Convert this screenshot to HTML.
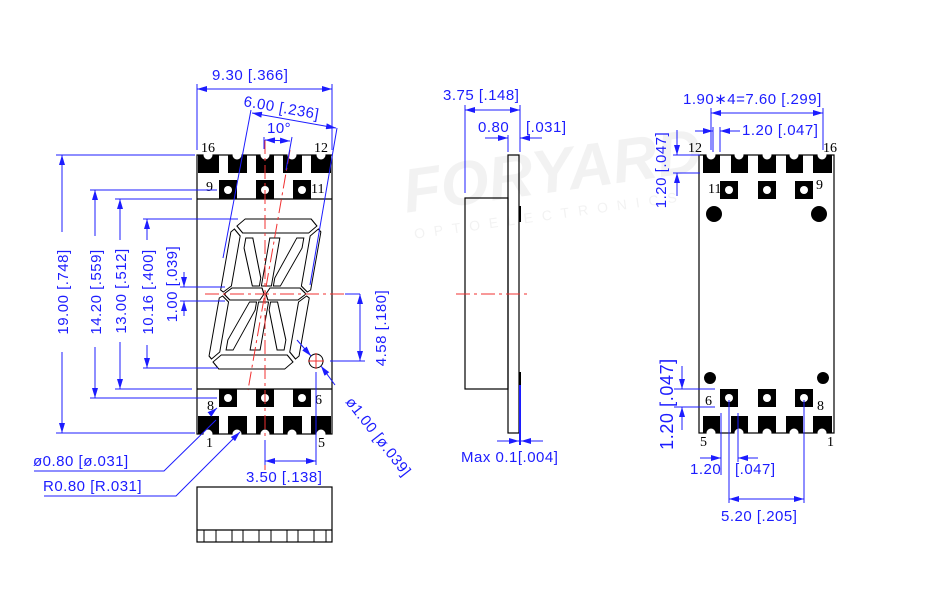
<!DOCTYPE html>
<html><head><meta charset="utf-8"><style>
html,body{margin:0;padding:0;background:#fff;}
svg{display:block;}
.d{fill:#1c1cff;font-family:"Liberation Sans",sans-serif;font-size:15px;letter-spacing:0.5px;}
.k{fill:#000;font-family:"Liberation Serif",serif;font-size:14px;}
.b{stroke:#1c1cff;stroke-width:1;fill:none;}
.o{stroke:#000;stroke-width:1.2;fill:none;}
.r{stroke:#f03030;stroke-width:1;stroke-dasharray:14 4 3 4;fill:none;}
.seg{fill:#fff;stroke:#000;stroke-width:1;}
</style></head><body>
<svg width="951" height="590" viewBox="0 0 951 590" xmlns="http://www.w3.org/2000/svg">
<defs>
<marker id="a" viewBox="0 0 10 6" refX="10" refY="3" markerWidth="10" markerHeight="6" orient="auto-start-reverse" markerUnits="userSpaceOnUse"><path d="M0,0 L10,3 L0,6 z" fill="#1c1cff"/></marker>
</defs>
<!-- watermark -->
<g opacity="0.07" transform="rotate(-8 530 160)">
<text x="400" y="195" style="font-family:'Liberation Sans',sans-serif;font-size:62px;font-weight:bold;fill:#555;font-style:italic">FORYARD</text>
<text x="405" y="222" style="font-family:'Liberation Sans',sans-serif;font-size:14px;letter-spacing:9px;fill:#555">OPTOELECTRONICS</text>
</g>

<!-- ===== LEFT FRONT VIEW ===== -->
<rect x="197" y="155" width="135" height="279" class="o"/>
<line x1="197" y1="199" x2="332" y2="199" class="o"/>
<line x1="197" y1="389" x2="332" y2="389" class="o"/>
<g fill="#000">
<rect x="198" y="155" width="21" height="18"/><rect x="228" y="155" width="19" height="18"/><rect x="256" y="155" width="18" height="18"/><rect x="283" y="155" width="19" height="18"/><rect x="311" y="155" width="20" height="18"/>
<rect x="198" y="416" width="21" height="18"/><rect x="228" y="416" width="19" height="18"/><rect x="256" y="416" width="18" height="18"/><rect x="283" y="416" width="19" height="18"/><rect x="311" y="416" width="20" height="18"/>
<rect x="219" y="180" width="18" height="19"/><rect x="256" y="180" width="18" height="19"/><rect x="293" y="180" width="18" height="19"/>
<rect x="219" y="389" width="18" height="18"/><rect x="256" y="389" width="18" height="18"/><rect x="293" y="389" width="18" height="18"/>
</g>
<g fill="#fff">
<circle cx="208" cy="155" r="4.5"/><circle cx="237" cy="155" r="4.5"/><circle cx="265" cy="155" r="4.5"/><circle cx="292" cy="155" r="4.5"/><circle cx="321" cy="155" r="4.5"/>
<circle cx="208" cy="434" r="4.5"/><circle cx="237" cy="434" r="4.5"/><circle cx="265" cy="434" r="4.5"/><circle cx="292" cy="434" r="4.5"/><circle cx="321" cy="434" r="4.5"/>
<circle cx="228" cy="190" r="4"/><circle cx="265" cy="190" r="4"/><circle cx="302" cy="190" r="4"/>
<circle cx="228" cy="398" r="4"/><circle cx="265" cy="398" r="4"/><circle cx="302" cy="398" r="4"/>
</g>
<text class="k" x="201" y="152">16</text><text class="k" x="314" y="152">12</text>
<text class="k" x="206" y="191">9</text><text class="k" x="311" y="193">11</text>
<text class="k" x="207" y="410">8</text><text class="k" x="315" y="404">6</text>
<text class="k" x="206" y="447">1</text><text class="k" x="318" y="447">5</text>
<g transform="matrix(1 0 -0.176 1 51.7 0)">
<g id="half">
<polygon class="seg" points="232,219 298,219 305,226 298,233 232,233 225,226"/>
<polygon class="seg" points="223,229 230,236 230,286 223,292 220,290 220,232"/>
<polygon class="seg" points="307,229 300,236 300,286 307,292 310,290 310,232"/>
<polygon class="seg" points="236,238 243,238 258,278 258,286 251,286 236,248"/>
<polygon class="seg" points="294,238 287,238 272,278 272,286 279,286 294,248"/>
<rect class="seg" x="260" y="238" width="10" height="48"/>
<polygon class="seg" points="224,294 231,288 261,288 264,294 261,300 231,300"/>
<polygon class="seg" points="306,294 299,288 269,288 266,294 269,300 299,300"/>
</g>
<use href="#half" transform="matrix(1 0 0 -1 0 588)"/>
</g>
<line x1="265" y1="140" x2="265" y2="470" class="r"/>
<line x1="205" y1="294" x2="345" y2="294" class="r"/>
<line x1="290" y1="150" x2="248" y2="390" class="r"/>
<line x1="345" y1="294" x2="360" y2="294" class="b"/>
<circle cx="316" cy="361" r="7" fill="none" stroke="#000"/>
<line x1="308" y1="361" x2="324" y2="361" stroke="#f03030"/><line x1="316" y1="353" x2="316" y2="369" stroke="#f03030"/>

<line x1="197" y1="150" x2="197" y2="84" class="b"/>
<line x1="332" y1="150" x2="332" y2="84" class="b"/>
<line x1="197" y1="89" x2="332" y2="89" class="b" marker-start="url(#a)" marker-end="url(#a)"/>
<text class="d" x="212" y="80">9.30 [.366]</text>
<line x1="251" y1="110" x2="223" y2="258" class="b"/>
<line x1="337" y1="128" x2="310" y2="285" class="b"/>
<line x1="252" y1="113" x2="336" y2="128" class="b" marker-start="url(#a)" marker-end="url(#a)"/>
<text class="d" transform="rotate(10 243 106)" x="243" y="106">6.00 [.236]</text>
<line x1="264" y1="137" x2="264" y2="149" class="b"/>
<line x1="292" y1="137" x2="286" y2="170" class="b"/>
<line x1="265" y1="140" x2="290" y2="141" class="b" marker-start="url(#a)" marker-end="url(#a)"/>
<text class="d" x="267" y="133">10°</text>

<g class="b">
<line x1="56" y1="155" x2="195" y2="155"/><line x1="56" y1="433" x2="195" y2="433"/>
<line x1="62" y1="155" x2="62" y2="232" marker-start="url(#a)"/><line x1="62" y1="352" x2="62" y2="433" marker-end="url(#a)"/>
<line x1="90" y1="190" x2="217" y2="190"/><line x1="90" y1="398" x2="217" y2="398"/>
<line x1="95" y1="190" x2="95" y2="236" marker-start="url(#a)"/><line x1="95" y1="347" x2="95" y2="398" marker-end="url(#a)"/>
<line x1="115" y1="199" x2="192" y2="199"/><line x1="115" y1="389" x2="192" y2="389"/>
<line x1="120" y1="199" x2="120" y2="240" marker-start="url(#a)"/><line x1="120" y1="342" x2="120" y2="389" marker-end="url(#a)"/>
<line x1="143" y1="219" x2="238" y2="219"/><line x1="143" y1="368" x2="218" y2="368"/>
<line x1="147" y1="219" x2="147" y2="240" marker-start="url(#a)"/><line x1="147" y1="345" x2="147" y2="368" marker-end="url(#a)"/>
<line x1="180" y1="287" x2="225" y2="287"/><line x1="180" y1="301" x2="225" y2="301"/>
<line x1="184" y1="272" x2="184" y2="287" marker-end="url(#a)"/><line x1="184" y1="316" x2="184" y2="301" marker-end="url(#a)"/>
</g>
<text class="d" transform="rotate(-90 68 292)" x="68" y="292" text-anchor="middle">19.00 [.748]</text>
<text class="d" transform="rotate(-90 101 292)" x="101" y="292" text-anchor="middle">14.20 [.559]</text>
<text class="d" transform="rotate(-90 126 291)" x="126" y="291" text-anchor="middle">13.00 [.512]</text>
<text class="d" transform="rotate(-90 153 292)" x="153" y="292" text-anchor="middle">10.16 [.400]</text>
<text class="d" transform="rotate(-90 177 284)" x="177" y="284" text-anchor="middle">1.00 [.039]</text>
<line x1="330" y1="361" x2="365" y2="361" class="b"/>
<line x1="360" y1="294" x2="360" y2="361" class="b" marker-start="url(#a)" marker-end="url(#a)"/>
<text class="d" transform="rotate(-90 386 328)" x="386" y="328" text-anchor="middle">4.58 [.180]</text>
<line x1="297" y1="340" x2="311" y2="356" class="b" marker-end="url(#a)"/>
<line x1="335" y1="385" x2="321" y2="366" class="b" marker-end="url(#a)"/>
<text class="d" transform="rotate(52 345 402)" x="345" y="402">ø1.00 [ø.039]</text>
<line x1="316" y1="372" x2="316" y2="465" class="b"/>
<line x1="265" y1="440" x2="265" y2="465" class="b"/>
<line x1="265" y1="461" x2="316" y2="461" class="b" marker-start="url(#a)" marker-end="url(#a)"/>
<text class="d" x="246" y="482">3.50 [.138]</text>
<polyline points="34,471 164,471 216,420" class="b"/>
<line x1="210" y1="414" x2="217" y2="408" class="b" marker-end="url(#a)"/>
<text class="d" x="33" y="466">ø0.80 [ø.031]</text>
<polyline points="44,496 176,496 240,432" class="b" marker-end="url(#a)"/>
<text class="d" x="43" y="491">R0.80 [R.031]</text>
<rect x="197" y="487" width="135" height="55" class="o"/>
<line x1="197" y1="530" x2="332" y2="530" class="o"/>
<g class="o" style="stroke-width:1">
<line x1="204" y1="530" x2="204" y2="542"/><line x1="216" y1="530" x2="216" y2="542"/><line x1="232" y1="530" x2="232" y2="542"/><line x1="243" y1="530" x2="243" y2="542"/><line x1="259" y1="530" x2="259" y2="542"/><line x1="271" y1="530" x2="271" y2="542"/><line x1="287" y1="530" x2="287" y2="542"/><line x1="298" y1="530" x2="298" y2="542"/><line x1="314" y1="530" x2="314" y2="542"/><line x1="326" y1="530" x2="326" y2="542"/>
</g>

<rect x="465" y="198" width="43" height="191" fill="none" stroke="#000" stroke-width="1.2"/>
<rect x="508" y="155" width="11" height="278" fill="none" stroke="#000" stroke-width="1.2"/>
<rect x="519" y="206" width="2" height="16" fill="#000"/><rect x="519" y="372" width="2" height="15" fill="#000"/>
<line x1="456" y1="294" x2="528" y2="294" class="r"/>
<line x1="465" y1="193" x2="465" y2="105" class="b"/>
<line x1="520" y1="152" x2="520" y2="105" class="b"/>
<line x1="465" y1="110" x2="520" y2="110" class="b" marker-start="url(#a)" marker-end="url(#a)"/>
<text class="d" x="443" y="100">3.75 [.148]</text>
<line x1="508" y1="152" x2="508" y2="135" class="b"/>
<line x1="485" y1="138" x2="508" y2="138" class="b" marker-end="url(#a)"/>
<line x1="542" y1="138" x2="520" y2="138" class="b" marker-end="url(#a)"/>
<text class="d" x="478" y="132">0.80</text><text class="d" x="526" y="132">[.031]</text>
<line x1="520" y1="385" x2="520" y2="445" stroke="#1c1cff" stroke-width="2"/>
<line x1="497" y1="441" x2="519" y2="441" class="b" marker-end="url(#a)"/>
<line x1="543" y1="441" x2="521" y2="441" class="b" marker-end="url(#a)"/>
<text class="d" x="461" y="462">Max  0.1[.004]</text>

<rect x="699" y="155" width="135" height="278" class="o"/>
<g fill="#000">
<rect x="703" y="155" width="17" height="18"/><rect x="731" y="155" width="17" height="18"/><rect x="758" y="155" width="18" height="18"/><rect x="786" y="155" width="17" height="18"/><rect x="813" y="155" width="19" height="18"/>
<rect x="703" y="416" width="17" height="17"/><rect x="731" y="416" width="17" height="17"/><rect x="758" y="416" width="18" height="17"/><rect x="786" y="416" width="17" height="17"/><rect x="813" y="416" width="19" height="17"/>
<rect x="720" y="181" width="18" height="18"/><rect x="758" y="181" width="18" height="18"/><rect x="795" y="181" width="18" height="18"/>
<rect x="720" y="389" width="18" height="18"/><rect x="758" y="389" width="18" height="18"/><rect x="795" y="389" width="18" height="18"/>
<circle cx="714" cy="214" r="8"/><circle cx="819" cy="214" r="8"/>
<circle cx="710" cy="378" r="6"/><circle cx="823" cy="378" r="6"/>
</g>
<g fill="#fff">
<circle cx="711" cy="155" r="4.5"/><circle cx="739" cy="155" r="4.5"/><circle cx="767" cy="155" r="4.5"/><circle cx="794" cy="155" r="4.5"/><circle cx="822" cy="155" r="4.5"/>
<circle cx="711" cy="433" r="4.5"/><circle cx="739" cy="433" r="4.5"/><circle cx="767" cy="433" r="4.5"/><circle cx="794" cy="433" r="4.5"/><circle cx="822" cy="433" r="4.5"/>
<circle cx="729" cy="190" r="4"/><circle cx="767" cy="190" r="4"/><circle cx="804" cy="190" r="4"/>
<circle cx="729" cy="398" r="4"/><circle cx="767" cy="398" r="4"/><circle cx="804" cy="398" r="4"/>
</g>
<text class="k" x="688" y="152">12</text><text class="k" x="823" y="152">16</text>
<text class="k" x="708" y="193">11</text><text class="k" x="816" y="189">9</text>
<text class="k" x="705" y="405">6</text><text class="k" x="817" y="410">8</text>
<text class="k" x="700" y="446">5</text><text class="k" x="827" y="446">1</text>
<line x1="711" y1="150" x2="711" y2="108" class="b"/>
<line x1="823" y1="150" x2="823" y2="108" class="b"/>
<line x1="711" y1="113" x2="823" y2="113" class="b" marker-start="url(#a)" marker-end="url(#a)"/>
<text class="d" x="683" y="104">1.90∗4=7.60 [.299]</text>
<line x1="713" y1="152" x2="713" y2="127" class="b"/><line x1="720" y1="152" x2="720" y2="127" class="b"/>
<line x1="695" y1="131" x2="713" y2="131" class="b" marker-end="url(#a)"/>
<line x1="740" y1="131" x2="720" y2="131" class="b" marker-end="url(#a)"/>
<text class="d" x="742" y="135">1.20 [.047]</text>
<line x1="673" y1="155" x2="700" y2="155" class="b"/><line x1="673" y1="173" x2="700" y2="173" class="b"/>
<line x1="677" y1="130" x2="677" y2="155" class="b" marker-end="url(#a)"/>
<line x1="677" y1="196" x2="677" y2="173" class="b" marker-end="url(#a)"/>
<text class="d" transform="rotate(-90 666 170)" x="666" y="170" text-anchor="middle">1.20 [.047]</text>
<line x1="674" y1="389" x2="715" y2="389" class="b"/><line x1="674" y1="407" x2="715" y2="407" class="b"/>
<line x1="682" y1="366" x2="682" y2="389" class="b" marker-end="url(#a)"/>
<line x1="682" y1="430" x2="682" y2="407" class="b" marker-end="url(#a)"/>
<text class="d" transform="rotate(-90 673 404) scale(1.2)" x="560.8" y="336.7" text-anchor="middle" style="font-size:15px">1.20 [.047]</text>
<line x1="721" y1="413" x2="721" y2="475" class="b"/><line x1="729" y1="400" x2="729" y2="503" class="b"/><line x1="738" y1="413" x2="738" y2="462" class="b"/>
<line x1="804" y1="400" x2="804" y2="503" class="b"/>
<line x1="700" y1="458" x2="721" y2="458" class="b" marker-end="url(#a)"/>
<line x1="758" y1="458" x2="738" y2="458" class="b" marker-end="url(#a)"/>
<text class="d" x="690" y="474">1.20</text><text class="d" x="735" y="474">[.047]</text>
<line x1="729" y1="499" x2="804" y2="499" class="b" marker-start="url(#a)" marker-end="url(#a)"/>
<text class="d" x="721" y="521">5.20 [.205]</text>
</svg>
</body></html>
